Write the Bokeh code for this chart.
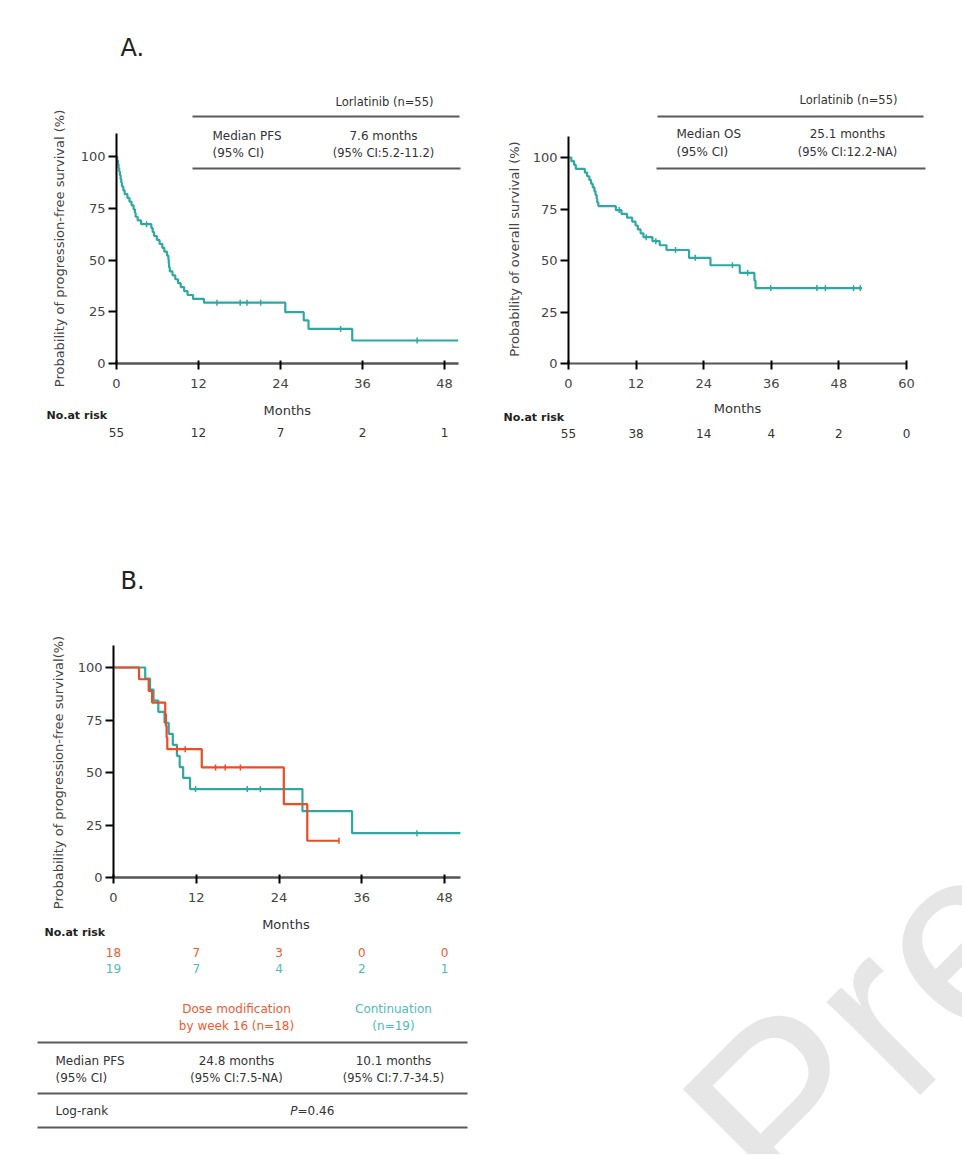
import math
from bokeh.plotting import figure
from bokeh.models import Range1d, LinearAxis, FixedTicker
from bokeh.layouts import column, row
from bokeh.core.properties import value
from bokeh.embed import file_html
from bokeh.resources import INLINE

# ---------------- data ----------------
# Panel A left: PFS, lorlatinib (n=55)
pfs_months = [0, 0.1, 0.2, 0.3, 0.4, 0.5, 0.6, 0.7, 0.8, 1.0, 1.2, 1.6, 1.9, 2.2, 2.5,
              2.7, 2.8, 3.1, 3.6, 5.1, 5.3, 5.5, 5.9, 6.3, 6.7, 7.0, 7.4, 7.6, 7.65,
              7.7, 7.8, 8.2, 8.6, 9.0, 9.4, 9.9, 10.4, 11.2, 12.8, 24.7, 27.4, 28.1,
              34.5, 50.0]
pfs_surv = [100, 98.2, 96.4, 94.5, 92.7, 90.9, 89.1, 87.3, 85.5, 83.6, 81.8, 80.0, 78.2,
            76.4, 74.5, 72.7, 70.9, 69.1, 67.3, 65.4, 63.5, 61.6, 59.7, 57.8, 55.9, 54.0,
            52.1, 50.2, 48.3, 46.4, 44.5, 42.6, 40.7, 38.8, 36.9, 35.0, 33.1, 31.2, 29.4,
            24.8, 20.8, 16.7, 11.1, 11.1]
pfs_cens_months = [4.4, 14.7, 18.1, 19.1, 21.1, 32.8, 44.0]
pfs_cens_surv = [67.3, 29.4, 29.4, 29.4, 29.4, 16.7, 11.1]
pfs_risk_months = [0, 12, 24, 36, 48]
pfs_risk_n = [55, 12, 7, 2, 1]

# Panel A right: OS, lorlatinib (n=55)
os_months = [0, 0.5, 1.0, 1.3, 2.9, 3.3, 3.7, 4.0, 4.3, 4.6, 4.8, 5.0, 5.1, 5.3, 8.4, 9.4,
             10.4, 11.3, 11.9, 12.3, 12.8, 13.3, 14.9, 16.2, 17.4, 21.4, 25.2, 30.4,
             33.0, 33.2, 52.1]
os_surv = [100, 98.2, 96.4, 94.5, 92.7, 90.9, 89.1, 87.3, 85.5, 83.6, 81.8, 80.0, 78.2,
           76.4, 74.5, 72.6, 70.8, 68.9, 67.0, 65.1, 63.2, 61.3, 59.4, 57.4, 55.1, 51.3,
           47.7, 44.0, 40.3, 36.6, 36.6]
os_cens_months = [9.0, 13.8, 15.5, 19.0, 22.5, 29.1, 31.8, 35.9, 44.1, 45.6, 50.6, 51.8]
os_cens_surv = [74.5, 61.3, 59.4, 55.1, 51.3, 47.7, 44.0, 36.6, 36.6, 36.6, 36.6, 36.6]
os_risk_months = [0, 12, 24, 36, 48, 60]
os_risk_n = [55, 38, 14, 4, 2, 0]

# Panel B: PFS by dose modification
dose_months = [0, 3.7, 5.1, 5.6, 7.5, 7.6, 7.7, 7.8, 12.8, 24.7, 28.1, 32.7]
dose_surv = [100, 94.4, 88.9, 83.3, 77.8, 72.2, 66.7, 61.1, 52.4, 34.9, 17.5, 17.5]
dose_cens_months = [9.2, 10.4, 14.8, 16.2, 18.4, 32.7]
dose_cens_surv = [61.1, 61.1, 52.4, 52.4, 52.4, 17.5]
cont_months = [0, 4.6, 5.3, 5.8, 6.5, 7.4, 8.0, 8.6, 9.2, 9.6, 10.1, 11.1, 27.4, 34.6, 50.3]
cont_surv = [100, 94.7, 89.5, 84.2, 78.9, 73.7, 68.4, 63.2, 57.9, 52.6, 47.4, 42.1, 31.6,
             21.1, 21.1]
cont_cens_months = [11.9, 19.4, 21.3, 44.0]
cont_cens_surv = [42.1, 42.1, 42.1, 21.1]
b_risk_months = [0, 12, 24, 36, 48]
dose_risk_n = [18, 7, 3, 0, 0]
cont_risk_n = [19, 7, 4, 2, 1]

y_ticks = [0, 25, 50, 75, 100]

# ---------------- styling ----------------
FONT = "DejaVu Sans"
TEAL = "#2ea8a2"
TEAL_TXT = "#4dbcb7"
RED = "#ee4b22"
RED_TXT = "#ef5a30"
AXGRAY = "#555555"
TXT = "#333333"


class Panel:
    """A figure whose data scale is aligned to page pixel positions."""

    def __init__(self, left, top, w, h, x0, ppm, y0, ppu):
        self.x0, self.ppm, self.y0, self.ppu = x0, ppm, y0, ppu
        self.p = figure(width=w, height=h,
                        x_range=Range1d((left - x0) / ppm, (left + w - x0) / ppm),
                        y_range=Range1d((y0 - (top + h)) / ppu, (y0 - top) / ppu),
                        x_axis_type=None, y_axis_type=None, toolbar_location=None,
                        output_backend="svg", min_border=0, outline_line_color=None,
                        background_fill_color="white", border_fill_color="white")
        self.p.xgrid.visible = False
        self.p.ygrid.visible = False

    def fx(self, X):
        return (X - self.x0) / self.ppm

    def fy(self, Y):
        return (self.y0 - Y) / self.ppu

    def text(self, x, y, s, size="12px", align="center", color=TXT, style="normal",
             baseline="middle", angle=0.0, font=FONT):
        self.p.text(x=[x], y=[y], text=[s], text_font=value(font), text_font_size=size,
                    text_align=align, text_baseline=baseline, text_color=color,
                    text_font_style=style, angle=angle)

    def ptext(self, X, Y, s, **kw):
        self.text(self.fx(X), self.fy(Y), s, **kw)

    def hline(self, X1, X2, Y, width=2):
        self.p.segment(x0=[self.fx(X1)], y0=[self.fy(Y)], x1=[self.fx(X2)], y1=[self.fy(Y)],
                       line_color="#5a5a5a", line_width=width)

    def axes(self, xmax, xticks, ymax, xw=2.5):
        xa = LinearAxis(fixed_location=0, bounds=(0, xmax), ticker=FixedTicker(ticks=xticks),
                        axis_line_color=AXGRAY, axis_line_width=xw,
                        major_tick_line_color="black", major_tick_line_width=2,
                        major_tick_in=3, major_tick_out=6, minor_tick_line_color=None,
                        major_label_standoff=9, major_label_text_font=FONT,
                        major_label_text_font_size="13px", major_label_text_color="#444444")
        self.p.add_layout(xa, "below")
        ya = LinearAxis(fixed_location=0, bounds=(0, ymax), ticker=FixedTicker(ticks=y_ticks),
                        axis_line_color="black", axis_line_width=2,
                        major_tick_line_color="black", major_tick_line_width=2,
                        major_tick_in=0, major_tick_out=8, minor_tick_line_color=None,
                        major_label_standoff=3, major_label_text_font=FONT,
                        major_label_text_font_size="13px", major_label_text_color="#444444")
        self.p.add_layout(ya, "left")

    def km(self, t, s, ct, cs, color):
        self.p.step(x=t, y=s, mode="after", line_color=color, line_width=2.2)
        self.p.scatter(x=ct, y=cs, marker="dash", angle=math.pi / 2, size=6,
                       line_color=color, line_width=1.5)


# ---------------- Panel A, left (PFS) ----------------
a1 = Panel(0, 0, 478, 458, 116, 6.833, 363, 2.07)
a1.axes(50, [0, 12, 24, 36, 48], 111)
a1.km(pfs_months, pfs_surv, pfs_cens_months, pfs_cens_surv, TEAL)
a1.ptext(120, 47, "A.", size="24px", align="left", color="#222222")
a1.ptext(384, 101, "Lorlatinib (n=55)", size="11.5px")
a1.hline(192, 459, 116)
a1.ptext(212, 135, "Median PFS", size="12px", align="left")
a1.ptext(212, 152, "(95% CI)", size="12px", align="left")
a1.ptext(383, 135, "7.6 months", size="12px")
a1.ptext(383, 152, "(95% CI:5.2-11.2)", size="11.5px")
a1.hline(192, 460, 168)
a1.text(a1.fx(59), a1.fy(248), "Probability of progression-free survival (%)",
        size="13px", angle=math.pi / 2, color="#444444")
a1.text(25, a1.fy(410), "Months", size="13px")
a1.ptext(46, 415, "No.at risk", size="11px", align="left", style="bold", color="#222222")
a1.p.text(x=pfs_risk_months, y=[a1.fy(432)] * len(pfs_risk_months),
          text=[str(n) for n in pfs_risk_n], text_font=value(FONT), text_font_size="12px",
          text_align="center", text_baseline="middle", text_color=TXT)

# ---------------- Panel A, right (OS) ----------------
a2 = Panel(478, 0, 484, 458, 568, 5.633, 363, 2.06)
a2.axes(60, [0, 12, 24, 36, 48, 60], 110, xw=2)
a2.km(os_months, os_surv, os_cens_months, os_cens_surv, TEAL)
a2.ptext(848, 99.5, "Lorlatinib (n=55)", size="11.5px")
a2.hline(657, 923, 116)
a2.ptext(676, 133.5, "Median OS", size="12px", align="left")
a2.ptext(676, 151, "(95% CI)", size="12px", align="left")
a2.ptext(847, 133.5, "25.1 months", size="12px")
a2.ptext(847, 151, "(95% CI:12.2-NA)", size="11.5px")
a2.hline(656, 925, 168)
a2.text(a2.fx(514), a2.fy(248.5), "Probability of overall survival (%)",
        size="13px", angle=math.pi / 2, color="#444444")
a2.text(30, a2.fy(408), "Months", size="13px")
a2.ptext(503, 417, "No.at risk", size="11px", align="left", style="bold", color="#222222")
a2.p.text(x=os_risk_months, y=[a2.fy(433)] * len(os_risk_months),
          text=[str(n) for n in os_risk_n], text_font=value(FONT), text_font_size="12px",
          text_align="center", text_baseline="middle", text_color=TXT)

# ---------------- Panel B ----------------
b = Panel(0, 458, 478, 696, 113, 6.896, 877, 2.1)
b.axes(50.3, [0, 12, 24, 36, 48], 110.5)
b.km(cont_months, cont_surv, cont_cens_months, cont_cens_surv, TEAL)
b.km(dose_months, dose_surv, dose_cens_months, dose_cens_surv, RED)
b.ptext(120, 580, "B.", size="24px", align="left", color="#222222")
b.text(b.fx(58), b.fy(772), "Probability of progression-free survival(%)",
       size="13px", angle=math.pi / 2, color="#444444")
b.text(25, b.fy(924), "Months", size="13px")
b.ptext(44, 932, "No.at risk", size="11px", align="left", style="bold", color="#222222")
b.p.text(x=b_risk_months, y=[b.fy(952)] * len(b_risk_months),
         text=[str(n) for n in dose_risk_n], text_font=value(FONT), text_font_size="12px",
         text_align="center", text_baseline="middle", text_color=RED_TXT)
b.p.text(x=b_risk_months, y=[b.fy(968)] * len(b_risk_months),
         text=[str(n) for n in cont_risk_n], text_font=value(FONT), text_font_size="12px",
         text_align="center", text_baseline="middle", text_color=TEAL_TXT)
b.ptext(236, 1008, "Dose modification", size="12px", color=RED_TXT)
b.ptext(236, 1025, "by week 16 (n=18)", size="12px", color=RED_TXT)
b.ptext(393, 1008, "Continuation", size="12px", color=TEAL_TXT)
b.ptext(393, 1025, "(n=19)", size="12px", color=TEAL_TXT)
b.hline(37, 467, 1042)
b.ptext(55, 1060, "Median PFS", size="12px", align="left")
b.ptext(55, 1077, "(95% CI)", size="12px", align="left")
b.ptext(236, 1060, "24.8 months", size="12px")
b.ptext(236, 1077, "(95% CI:7.5-NA)", size="11.5px")
b.ptext(393, 1060, "10.1 months", size="12px")
b.ptext(393, 1077, "(95% CI:7.7-34.5)", size="11.5px")
b.hline(37, 467, 1093)
b.ptext(55, 1110, "Log-rank", size="12px", align="left")
b.ptext(297, 1110, "P", size="12px", align="right", style="italic")
b.ptext(297, 1110, "=0.46", size="12px", align="left")
b.hline(37, 467, 1127)

# ---------------- watermark area ----------------
w = Panel(478, 458, 484, 696, 0, 1.0, 0, 1.0)
w.ptext(866, 1026, "Pre", size="250px", align="center", baseline="middle",
        angle=math.pi / 4, color="#e6e6e6", font="Liberation Sans")

layout = column(row(a1.p, a2.p), row(b.p, w.p))
open("out.html", "w").write(file_html(layout, INLINE))
